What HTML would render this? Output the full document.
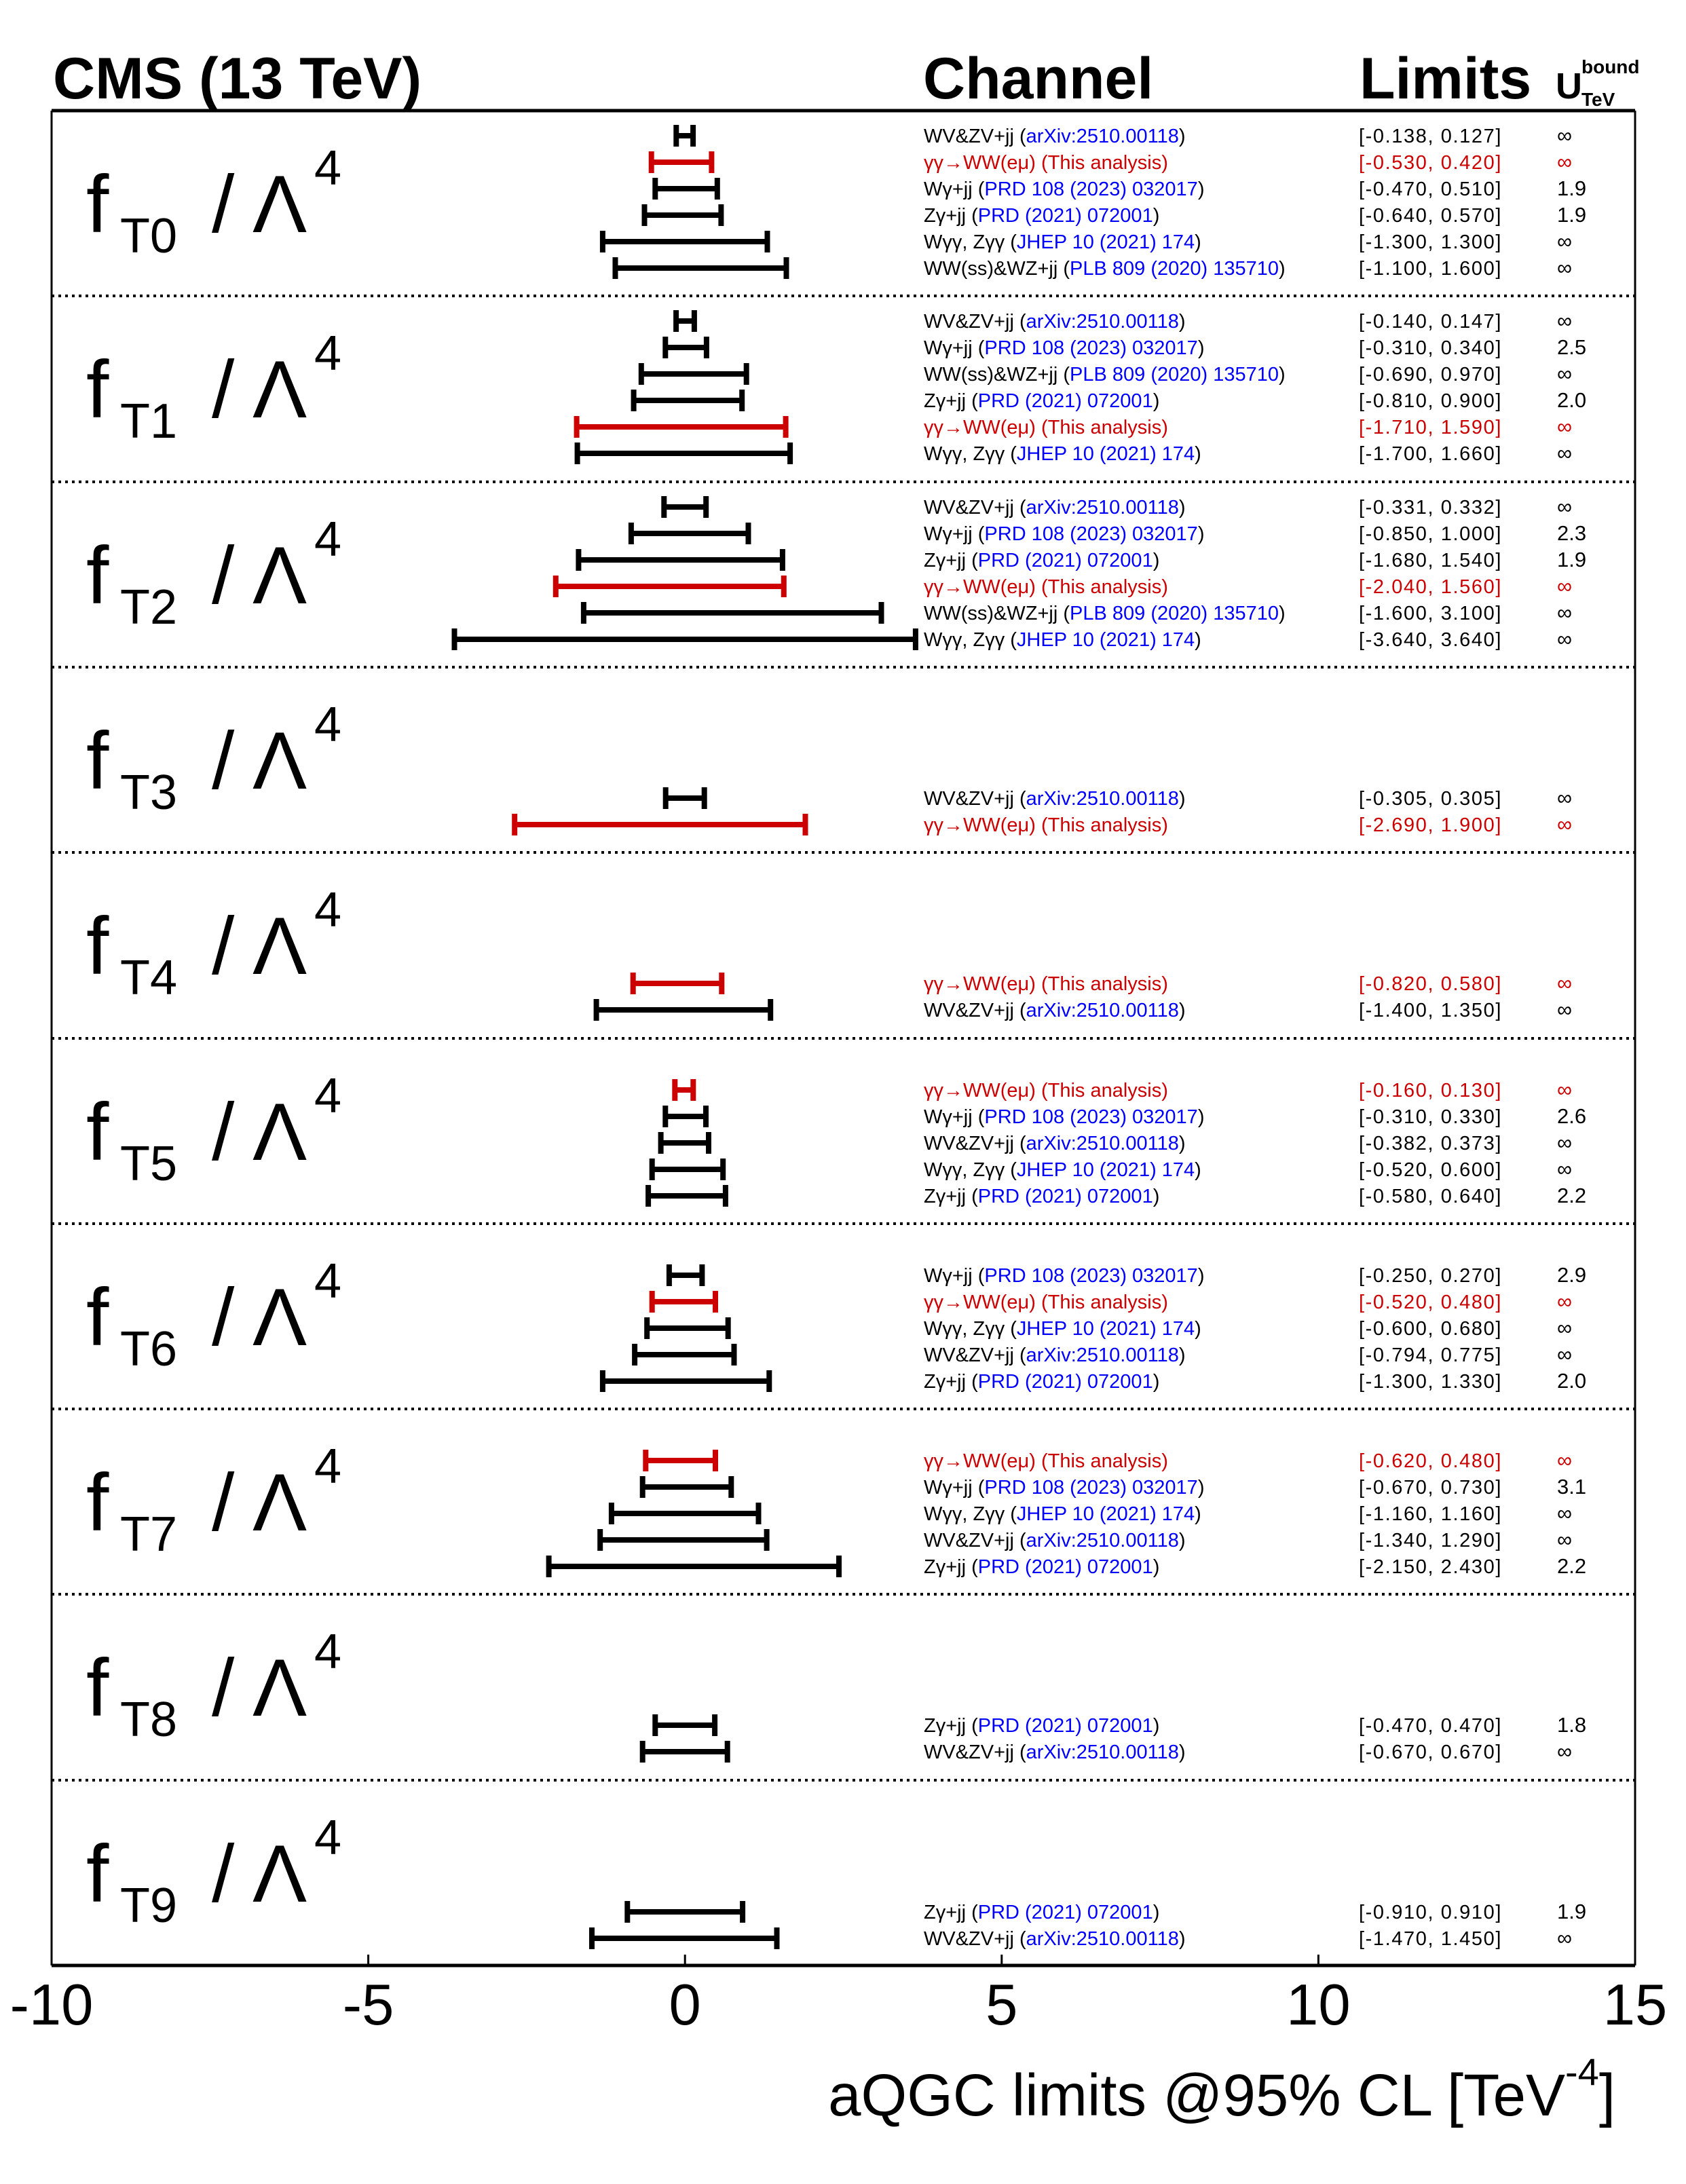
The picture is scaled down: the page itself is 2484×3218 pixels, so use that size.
<!DOCTYPE html>
<html><head><meta charset="utf-8"><style>
html,body{margin:0;padding:0;background:#fff}
svg{display:block}
text{font-family:"Liberation Sans","DejaVu Sans",sans-serif}
.c{font-size:29px}
.l{font-size:29px;letter-spacing:1.6px}
.u{font-size:31px}
.b{fill:#0000ff}
.r{fill:#cc0000}
.bar{stroke:#000;stroke-width:8;fill:none}
.rb{stroke:#cc0000;stroke-width:8;fill:none}
.dv{stroke:#000;stroke-width:4;stroke-dasharray:4 6}
.f{font-size:120px}
.s{font-size:72px}
</style></head><body>
<svg width="2484" height="3218" viewBox="0 0 2484 3218" xmlns="http://www.w3.org/2000/svg">
<!-- header -->
<text x="78" y="145" font-size="86" font-weight="bold">CMS (13 TeV)</text>
<text x="1360" y="145" font-size="86" font-weight="bold">Channel</text>
<text x="2003" y="145" font-size="86" font-weight="bold">Limits</text>
<text x="2292" y="145" font-size="54" font-weight="bold">U</text>
<text x="2330" y="108" font-size="28" font-weight="bold">bound</text>
<text x="2330" y="156" font-size="28" font-weight="bold">TeV</text>

<!-- frame -->
<line x1="76" y1="163" x2="2409" y2="163" stroke="#000" stroke-width="5"/>
<line x1="76" y1="2896" x2="2409" y2="2896" stroke="#000" stroke-width="5"/>
<line x1="76" y1="163" x2="76" y2="2896" stroke="#000" stroke-width="3"/>
<line x1="2409" y1="163" x2="2409" y2="2896" stroke="#000" stroke-width="3"/>
<g stroke="#000" stroke-width="3">
<line x1="542.6" y1="2880" x2="542.6" y2="2896"/>
<line x1="1009.2" y1="2880" x2="1009.2" y2="2896"/>
<line x1="1475.8" y1="2880" x2="1475.8" y2="2896"/>
<line x1="1942.4" y1="2880" x2="1942.4" y2="2896"/>
</g>
<!-- dividers -->
<g class="dv">
<line x1="76" y1="436" x2="2409" y2="436"/>
<line x1="76" y1="710" x2="2409" y2="710"/>
<line x1="76" y1="983" x2="2409" y2="983"/>
<line x1="76" y1="1256" x2="2409" y2="1256"/>
<line x1="76" y1="1530" x2="2409" y2="1530"/>
<line x1="76" y1="1803" x2="2409" y2="1803"/>
<line x1="76" y1="2076" x2="2409" y2="2076"/>
<line x1="76" y1="2349" x2="2409" y2="2349"/>
<line x1="76" y1="2623" x2="2409" y2="2623"/>
</g>

<!-- tick labels -->
<g font-size="85" text-anchor="middle">
<text x="76" y="2983">-10</text>
<text x="542.6" y="2983">-5</text>
<text x="1009.2" y="2983">0</text>
<text x="1475.8" y="2983">5</text>
<text x="1942.4" y="2983">10</text>
<text x="2409" y="2983">15</text>
</g>
<text x="2380" y="3117" font-size="87" text-anchor="end">aQGC limits @95% CL [TeV<tspan dy="-45" font-size="56">-4</tspan><tspan dy="45">]</tspan></text>

<!-- panel labels -->
<g id="labels">
<text class="f" x="127" y="342">f</text><text class="s" x="177" y="372">T0</text><text class="f" x="312" y="342">/ Λ</text><text class="s" x="463" y="272">4</text>
<text class="f" x="127" y="615">f</text><text class="s" x="177" y="645">T1</text><text class="f" x="312" y="615">/ Λ</text><text class="s" x="463" y="545">4</text>
<text class="f" x="127" y="889">f</text><text class="s" x="177" y="919">T2</text><text class="f" x="312" y="889">/ Λ</text><text class="s" x="463" y="819">4</text>
<text class="f" x="127" y="1162">f</text><text class="s" x="177" y="1192">T3</text><text class="f" x="312" y="1162">/ Λ</text><text class="s" x="463" y="1092">4</text>
<text class="f" x="127" y="1435">f</text><text class="s" x="177" y="1465">T4</text><text class="f" x="312" y="1435">/ Λ</text><text class="s" x="463" y="1365">4</text>
<text class="f" x="127" y="1709">f</text><text class="s" x="177" y="1739">T5</text><text class="f" x="312" y="1709">/ Λ</text><text class="s" x="463" y="1639">4</text>
<text class="f" x="127" y="1982">f</text><text class="s" x="177" y="2012">T6</text><text class="f" x="312" y="1982">/ Λ</text><text class="s" x="463" y="1912">4</text>
<text class="f" x="127" y="2255">f</text><text class="s" x="177" y="2285">T7</text><text class="f" x="312" y="2255">/ Λ</text><text class="s" x="463" y="2185">4</text>
<text class="f" x="127" y="2528">f</text><text class="s" x="177" y="2558">T8</text><text class="f" x="312" y="2528">/ Λ</text><text class="s" x="463" y="2458">4</text>
<text class="f" x="127" y="2802">f</text><text class="s" x="177" y="2832">T9</text><text class="f" x="312" y="2802">/ Λ</text><text class="s" x="463" y="2732">4</text>
</g>

<!-- T0 -->
<g transform="translate(0,200)"><path class="bar" d="M996.3 -16V16M996.3 0H1021.1M1021.1 -16V16"/><text class="c" x="1361" y="10">WV&amp;ZV+jj (<tspan class="b">arXiv:2510.00118</tspan>)</text><text class="l" x="2002" y="10">[-0.138, 0.127]</text><text class="u" x="2294" y="10">∞</text></g>
<g transform="translate(0,239)"><path class="rb" d="M959.7 -16V16M959.7 0H1048.4M1048.4 -16V16"/><text class="c r" x="1361" y="10">γγ→WW(eμ) (This analysis)</text><text class="l r" x="2002" y="10">[-0.530, 0.420]</text><text class="u r" x="2294" y="10">∞</text></g>
<g transform="translate(0,278)"><path class="bar" d="M965.3 -16V16M965.3 0H1056.8M1056.8 -16V16"/><text class="c" x="1361" y="10">Wγ+jj (<tspan class="b">PRD 108 (2023) 032017</tspan>)</text><text class="l" x="2002" y="10">[-0.470, 0.510]</text><text class="u" x="2294" y="10">1.9</text></g>
<g transform="translate(0,317)"><path class="bar" d="M949.5 -16V16M949.5 0H1062.4M1062.4 -16V16"/><text class="c" x="1361" y="10">Zγ+jj (<tspan class="b">PRD (2021) 072001</tspan>)</text><text class="l" x="2002" y="10">[-0.640, 0.570]</text><text class="u" x="2294" y="10">1.9</text></g>
<g transform="translate(0,356)"><path class="bar" d="M887.9 -16V16M887.9 0H1130.5M1130.5 -16V16"/><text class="c" x="1361" y="10">Wγγ, Zγγ (<tspan class="b">JHEP 10 (2021) 174</tspan>)</text><text class="l" x="2002" y="10">[-1.300, 1.300]</text><text class="u" x="2294" y="10">∞</text></g>
<g transform="translate(0,395)"><path class="bar" d="M906.5 -16V16M906.5 0H1158.5M1158.5 -16V16"/><text class="c" x="1361" y="10">WW(ss)&amp;WZ+jj (<tspan class="b">PLB 809 (2020) 135710</tspan>)</text><text class="l" x="2002" y="10">[-1.100, 1.600]</text><text class="u" x="2294" y="10">∞</text></g>

<!-- T1 -->
<g transform="translate(0,473)"><path class="bar" d="M996.1 -16V16M996.1 0H1022.9M1022.9 -16V16"/><text class="c" x="1361" y="10">WV&amp;ZV+jj (<tspan class="b">arXiv:2510.00118</tspan>)</text><text class="l" x="2002" y="10">[-0.140, 0.147]</text><text class="u" x="2294" y="10">∞</text></g>
<g transform="translate(0,512)"><path class="bar" d="M980.3 -16V16M980.3 0H1040.9M1040.9 -16V16"/><text class="c" x="1361" y="10">Wγ+jj (<tspan class="b">PRD 108 (2023) 032017</tspan>)</text><text class="l" x="2002" y="10">[-0.310, 0.340]</text><text class="u" x="2294" y="10">2.5</text></g>
<g transform="translate(0,551)"><path class="bar" d="M944.8 -16V16M944.8 0H1099.7M1099.7 -16V16"/><text class="c" x="1361" y="10">WW(ss)&amp;WZ+jj (<tspan class="b">PLB 809 (2020) 135710</tspan>)</text><text class="l" x="2002" y="10">[-0.690, 0.970]</text><text class="u" x="2294" y="10">∞</text></g>
<g transform="translate(0,590)"><path class="bar" d="M933.6 -16V16M933.6 0H1093.2M1093.2 -16V16"/><text class="c" x="1361" y="10">Zγ+jj (<tspan class="b">PRD (2021) 072001</tspan>)</text><text class="l" x="2002" y="10">[-0.810, 0.900]</text><text class="u" x="2294" y="10">2.0</text></g>
<g transform="translate(0,629)"><path class="rb" d="M849.6 -16V16M849.6 0H1157.6M1157.6 -16V16"/><text class="c r" x="1361" y="10">γγ→WW(eμ) (This analysis)</text><text class="l r" x="2002" y="10">[-1.710, 1.590]</text><text class="u r" x="2294" y="10">∞</text></g>
<g transform="translate(0,668)"><path class="bar" d="M850.6 -16V16M850.6 0H1164.1M1164.1 -16V16"/><text class="c" x="1361" y="10">Wγγ, Zγγ (<tspan class="b">JHEP 10 (2021) 174</tspan>)</text><text class="l" x="2002" y="10">[-1.700, 1.660]</text><text class="u" x="2294" y="10">∞</text></g>

<!-- T2 -->
<g transform="translate(0,747)"><path class="bar" d="M978.3 -16V16M978.3 0H1040.2M1040.2 -16V16"/><text class="c" x="1361" y="10">WV&amp;ZV+jj (<tspan class="b">arXiv:2510.00118</tspan>)</text><text class="l" x="2002" y="10">[-0.331, 0.332]</text><text class="u" x="2294" y="10">∞</text></g>
<g transform="translate(0,786)"><path class="bar" d="M929.9 -16V16M929.9 0H1102.5M1102.5 -16V16"/><text class="c" x="1361" y="10">Wγ+jj (<tspan class="b">PRD 108 (2023) 032017</tspan>)</text><text class="l" x="2002" y="10">[-0.850, 1.000]</text><text class="u" x="2294" y="10">2.3</text></g>
<g transform="translate(0,825)"><path class="bar" d="M852.4 -16V16M852.4 0H1152.9M1152.9 -16V16"/><text class="c" x="1361" y="10">Zγ+jj (<tspan class="b">PRD (2021) 072001</tspan>)</text><text class="l" x="2002" y="10">[-1.680, 1.540]</text><text class="u" x="2294" y="10">1.9</text></g>
<g transform="translate(0,864)"><path class="rb" d="M818.8 -16V16M818.8 0H1154.8M1154.8 -16V16"/><text class="c r" x="1361" y="10">γγ→WW(eμ) (This analysis)</text><text class="l r" x="2002" y="10">[-2.040, 1.560]</text><text class="u r" x="2294" y="10">∞</text></g>
<g transform="translate(0,903)"><path class="bar" d="M859.9 -16V16M859.9 0H1298.5M1298.5 -16V16"/><text class="c" x="1361" y="10">WW(ss)&amp;WZ+jj (<tspan class="b">PLB 809 (2020) 135710</tspan>)</text><text class="l" x="2002" y="10">[-1.600, 3.100]</text><text class="u" x="2294" y="10">∞</text></g>
<g transform="translate(0,942)"><path class="bar" d="M669.5 -16V16M669.5 0H1348.9M1348.9 -16V16"/><text class="c" x="1361" y="10">Wγγ, Zγγ (<tspan class="b">JHEP 10 (2021) 174</tspan>)</text><text class="l" x="2002" y="10">[-3.640, 3.640]</text><text class="u" x="2294" y="10">∞</text></g>

<!-- T3 -->
<g transform="translate(0,1176)"><path class="bar" d="M980.7 -16V16M980.7 0H1037.7M1037.7 -16V16"/><text class="c" x="1361" y="10">WV&amp;ZV+jj (<tspan class="b">arXiv:2510.00118</tspan>)</text><text class="l" x="2002" y="10">[-0.305, 0.305]</text><text class="u" x="2294" y="10">∞</text></g>
<g transform="translate(0,1215)"><path class="rb" d="M758.2 -16V16M758.2 0H1186.5M1186.5 -16V16"/><text class="c r" x="1361" y="10">γγ→WW(eμ) (This analysis)</text><text class="l r" x="2002" y="10">[-2.690, 1.900]</text><text class="u r" x="2294" y="10">∞</text></g>

<!-- T4 -->
<g transform="translate(0,1449)"><path class="rb" d="M932.7 -16V16M932.7 0H1063.3M1063.3 -16V16"/><text class="c r" x="1361" y="10">γγ→WW(eμ) (This analysis)</text><text class="l r" x="2002" y="10">[-0.820, 0.580]</text><text class="u r" x="2294" y="10">∞</text></g>
<g transform="translate(0,1488)"><path class="bar" d="M878.6 -16V16M878.6 0H1135.2M1135.2 -16V16"/><text class="c" x="1361" y="10">WV&amp;ZV+jj (<tspan class="b">arXiv:2510.00118</tspan>)</text><text class="l" x="2002" y="10">[-1.400, 1.350]</text><text class="u" x="2294" y="10">∞</text></g>

<!-- T5 -->
<g transform="translate(0,1606)"><path class="rb" d="M994.3 -16V16M994.3 0H1021.3M1021.3 -16V16"/><text class="c r" x="1361" y="10">γγ→WW(eμ) (This analysis)</text><text class="l r" x="2002" y="10">[-0.160, 0.130]</text><text class="u r" x="2294" y="10">∞</text></g>
<g transform="translate(0,1645)"><path class="bar" d="M980.3 -16V16M980.3 0H1040.0M1040.0 -16V16"/><text class="c" x="1361" y="10">Wγ+jj (<tspan class="b">PRD 108 (2023) 032017</tspan>)</text><text class="l" x="2002" y="10">[-0.310, 0.330]</text><text class="u" x="2294" y="10">2.6</text></g>
<g transform="translate(0,1684)"><path class="bar" d="M973.6 -16V16M973.6 0H1044.0M1044.0 -16V16"/><text class="c" x="1361" y="10">WV&amp;ZV+jj (<tspan class="b">arXiv:2510.00118</tspan>)</text><text class="l" x="2002" y="10">[-0.382, 0.373]</text><text class="u" x="2294" y="10">∞</text></g>
<g transform="translate(0,1723)"><path class="bar" d="M960.7 -16V16M960.7 0H1065.2M1065.2 -16V16"/><text class="c" x="1361" y="10">Wγγ, Zγγ (<tspan class="b">JHEP 10 (2021) 174</tspan>)</text><text class="l" x="2002" y="10">[-0.520, 0.600]</text><text class="u" x="2294" y="10">∞</text></g>
<g transform="translate(0,1762)"><path class="bar" d="M955.1 -16V16M955.1 0H1068.9M1068.9 -16V16"/><text class="c" x="1361" y="10">Zγ+jj (<tspan class="b">PRD (2021) 072001</tspan>)</text><text class="l" x="2002" y="10">[-0.580, 0.640]</text><text class="u" x="2294" y="10">2.2</text></g>

<!-- T6 -->
<g transform="translate(0,1879)"><path class="bar" d="M985.9 -16V16M985.9 0H1034.4M1034.4 -16V16"/><text class="c" x="1361" y="10">Wγ+jj (<tspan class="b">PRD 108 (2023) 032017</tspan>)</text><text class="l" x="2002" y="10">[-0.250, 0.270]</text><text class="u" x="2294" y="10">2.9</text></g>
<g transform="translate(0,1918)"><path class="rb" d="M960.7 -16V16M960.7 0H1054.0M1054.0 -16V16"/><text class="c r" x="1361" y="10">γγ→WW(eμ) (This analysis)</text><text class="l r" x="2002" y="10">[-0.520, 0.480]</text><text class="u r" x="2294" y="10">∞</text></g>
<g transform="translate(0,1957)"><path class="bar" d="M953.2 -16V16M953.2 0H1072.7M1072.7 -16V16"/><text class="c" x="1361" y="10">Wγγ, Zγγ (<tspan class="b">JHEP 10 (2021) 174</tspan>)</text><text class="l" x="2002" y="10">[-0.600, 0.680]</text><text class="u" x="2294" y="10">∞</text></g>
<g transform="translate(0,1996)"><path class="bar" d="M935.1 -16V16M935.1 0H1081.5M1081.5 -16V16"/><text class="c" x="1361" y="10">WV&amp;ZV+jj (<tspan class="b">arXiv:2510.00118</tspan>)</text><text class="l" x="2002" y="10">[-0.794, 0.775]</text><text class="u" x="2294" y="10">∞</text></g>
<g transform="translate(0,2035)"><path class="bar" d="M887.9 -16V16M887.9 0H1133.3M1133.3 -16V16"/><text class="c" x="1361" y="10">Zγ+jj (<tspan class="b">PRD (2021) 072001</tspan>)</text><text class="l" x="2002" y="10">[-1.300, 1.330]</text><text class="u" x="2294" y="10">2.0</text></g>

<!-- T7 -->
<g transform="translate(0,2152)"><path class="rb" d="M951.3 -16V16M951.3 0H1054.0M1054.0 -16V16"/><text class="c r" x="1361" y="10">γγ→WW(eμ) (This analysis)</text><text class="l r" x="2002" y="10">[-0.620, 0.480]</text><text class="u r" x="2294" y="10">∞</text></g>
<g transform="translate(0,2191)"><path class="bar" d="M946.7 -16V16M946.7 0H1077.3M1077.3 -16V16"/><text class="c" x="1361" y="10">Wγ+jj (<tspan class="b">PRD 108 (2023) 032017</tspan>)</text><text class="l" x="2002" y="10">[-0.670, 0.730]</text><text class="u" x="2294" y="10">3.1</text></g>
<g transform="translate(0,2230)"><path class="bar" d="M900.9 -16V16M900.9 0H1117.5M1117.5 -16V16"/><text class="c" x="1361" y="10">Wγγ, Zγγ (<tspan class="b">JHEP 10 (2021) 174</tspan>)</text><text class="l" x="2002" y="10">[-1.160, 1.160]</text><text class="u" x="2294" y="10">∞</text></g>
<g transform="translate(0,2269)"><path class="bar" d="M884.2 -16V16M884.2 0H1129.6M1129.6 -16V16"/><text class="c" x="1361" y="10">WV&amp;ZV+jj (<tspan class="b">arXiv:2510.00118</tspan>)</text><text class="l" x="2002" y="10">[-1.340, 1.290]</text><text class="u" x="2294" y="10">∞</text></g>
<g transform="translate(0,2308)"><path class="bar" d="M808.6 -16V16M808.6 0H1236.0M1236.0 -16V16"/><text class="c" x="1361" y="10">Zγ+jj (<tspan class="b">PRD (2021) 072001</tspan>)</text><text class="l" x="2002" y="10">[-2.150, 2.430]</text><text class="u" x="2294" y="10">2.2</text></g>

<!-- T8 -->
<g transform="translate(0,2542)"><path class="bar" d="M965.3 -16V16M965.3 0H1053.1M1053.1 -16V16"/><text class="c" x="1361" y="10">Zγ+jj (<tspan class="b">PRD (2021) 072001</tspan>)</text><text class="l" x="2002" y="10">[-0.470, 0.470]</text><text class="u" x="2294" y="10">1.8</text></g>
<g transform="translate(0,2581)"><path class="bar" d="M946.7 -16V16M946.7 0H1071.7M1071.7 -16V16"/><text class="c" x="1361" y="10">WV&amp;ZV+jj (<tspan class="b">arXiv:2510.00118</tspan>)</text><text class="l" x="2002" y="10">[-0.670, 0.670]</text><text class="u" x="2294" y="10">∞</text></g>

<!-- T9 -->
<g transform="translate(0,2817)"><path class="bar" d="M924.3 -16V16M924.3 0H1094.1M1094.1 -16V16"/><text class="c" x="1361" y="10">Zγ+jj (<tspan class="b">PRD (2021) 072001</tspan>)</text><text class="l" x="2002" y="10">[-0.910, 0.910]</text><text class="u" x="2294" y="10">1.9</text></g>
<g transform="translate(0,2856)"><path class="bar" d="M872.0 -16V16M872.0 0H1144.5M1144.5 -16V16"/><text class="c" x="1361" y="10">WV&amp;ZV+jj (<tspan class="b">arXiv:2510.00118</tspan>)</text><text class="l" x="2002" y="10">[-1.470, 1.450]</text><text class="u" x="2294" y="10">∞</text></g>
</svg>
</body></html>
